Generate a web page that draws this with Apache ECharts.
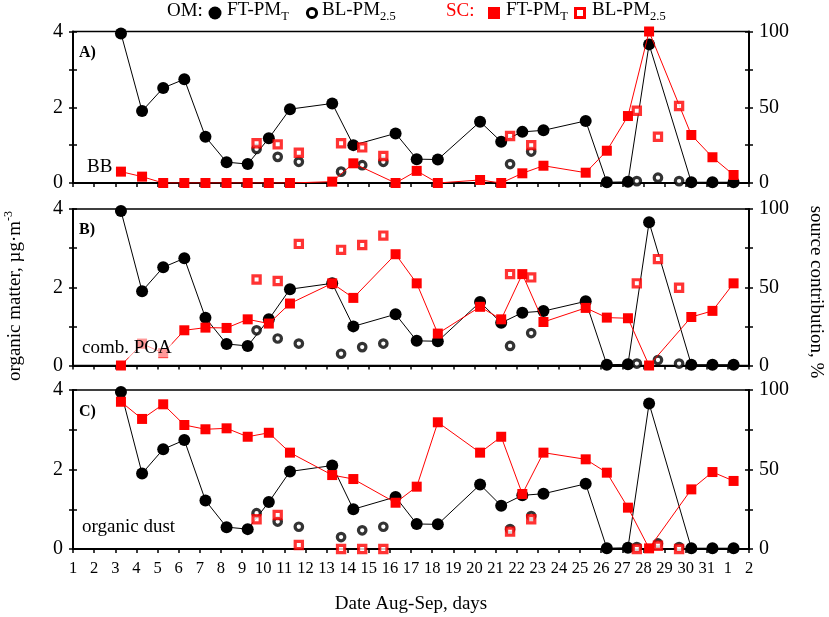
<!DOCTYPE html>
<html><head><meta charset="utf-8">
<script src="https://cdn.jsdelivr.net/npm/echarts@6/dist/echarts.min.js"></script>
<style>html,body{margin:0;padding:0;background:#fff}#c{width:829px;height:617px}</style>
</head><body><div id="c"></div>
<script>
// sampling times (day of Aug; 32 = Sep 1)
const ftDays = [3.27,4.27,5.27,6.27,7.27,8.27,9.27,10.27,11.27,13.27,14.27,16.27,17.27,18.27,20.27,21.27,22.27,23.27,25.27,26.27,27.27,28.27,30.27,31.27,32.27];
const blDays = [9.69,10.69,11.69,13.69,14.69,15.69,21.69,22.69,27.69,28.69,29.69];
// organic matter, ug/m3
const omFT = [3.95,1.90,2.51,2.74,1.22,0.55,0.50,1.18,1.95,2.10,1.00,1.31,0.63,0.62,1.62,1.09,1.35,1.39,1.64,0.02,0.03,3.66,0.02,0.02,0.02];
const omBL = [0.90,0.69,0.56,0.30,0.47,0.56,0.50,0.83,0.05,0.14,0.05];
// source contributions, %
const bbFT = [7.5,4.2,0,0,0,0,0,0,0,0.9,13,0,8,0,2,0,6.4,11.4,6.8,21.3,44.2,100,31.7,17,5.3];
const bbBL = [26.2,25.5,20,26.2,23.5,17.8,31,25,47.7,30.5,50.8];
const poaFT = [0,13.9,7.9,22.5,24.2,24,29.5,26.8,39.6,52.5,43.2,71.1,52.5,20.4,37.5,29.5,58.4,27.8,36.8,30.6,30.2,0,31,34.9,52.5];
const poaBL = [55,54,77.7,73.9,77,83,58.4,56.3,52.5,68,49.7];
const dustFT = [92.6,81.8,91,78,75.3,75.9,70.6,73.1,60.6,46.5,44,29.1,39.2,79.7,60.6,70.6,34.6,60.6,56.4,48,26,0.4,37.5,48.4,42.8];
const dustBL = [18.7,21.4,2.5,0,0,0,10.9,18.7,0,2,0];
const xTickLabels = ['1','2','3','4','5','6','7','8','9','10','11','12','13','14','15','16','17','18','19','20','21','22','23','24','25','26','27','28','29','30','31','1','2'];
const panelLetters = ['A)','B)','C)'];
const panelNames = ['BB','comb. POA','organic dust'];
const scFT = [bbFT, poaFT, dustFT];
const scBL = [bbBL, poaBL, dustBL];

const FONT = '"Liberation Serif", "Times New Roman", serif';
const gridPos = [{top:31.5,height:151.5},{top:209,height:156.5},{top:390,height:159}];
const pair = (xs, ys) => xs.map((x,i)=>[x, ys[i]]);

const grid=[], xAxis=[], yAxis=[], series=[];
gridPos.forEach((g,i)=>{
  grid.push({left:73, right:80, top:g.top, height:g.height, show:true, borderColor:'#000', borderWidth:1.5, backgroundColor:'transparent'});
  const bx = {gridIndex:i, type:'value', min:1, max:33, interval:1, splitLine:{show:false},
    axisLine:{show:true, onZero:false, lineStyle:{color:'#000', width:2}},
    axisTick:{show:true, inside:false, length:4, lineStyle:{color:'#000', width:1.5}},
    axisLabel:{show:i===2, margin:11, color:'#000', fontFamily:FONT, fontSize:16.5, formatter:v=>xTickLabels[Math.round(v)-1]||''}};
  xAxis.push(bx);
  xAxis.push(Object.assign({}, bx, {axisLine:{show:false}, axisTick:{show:true, inside:true, length:4, lineStyle:{color:'#000', width:1.5}}, axisLabel:{show:false}}));
  const yl = {gridIndex:i, type:'value', position:'left', min:0, max:4, interval:1, splitLine:{show:false},
    axisLine:{show:true, onZero:false, lineStyle:{color:'#000', width:2}},
    axisTick:{show:true, inside:false, length:4, lineStyle:{color:'#000', width:1.5}},
    axisLabel:{show:true, margin:10, color:'#000', fontFamily:FONT, fontSize:20, formatter:v=>(v%2===0?String(v):'')}};
  const yr = {gridIndex:i, type:'value', position:'right', min:0, max:100, interval:25, splitLine:{show:false},
    axisLine:{show:true, onZero:false, lineStyle:{color:'#000', width:2}},
    axisTick:{show:true, inside:false, length:4, lineStyle:{color:'#000', width:1.5}},
    axisLabel:{show:true, margin:10, color:'#000', fontFamily:FONT, fontSize:20, formatter:v=>(v%50===0?String(v):'')}};
  yAxis.push(yl);
  yAxis.push(Object.assign({}, yl, {axisLine:{show:false}, axisTick:{show:true, inside:true, length:4, lineStyle:{color:'#000', width:1.5}}, axisLabel:{show:false}}));
  yAxis.push(yr);
  yAxis.push(Object.assign({}, yr, {axisLine:{show:false}, axisTick:{show:true, inside:true, length:4, lineStyle:{color:'#000', width:1.5}}, axisLabel:{show:false}}));
  const xi = i*2, yL = i*4, yR = i*4+2;
  series.push({type:'line', xAxisIndex:xi, yAxisIndex:yL, data:pair(ftDays, omFT), symbol:'circle', symbolSize:12,
    lineStyle:{color:'#000', width:1}, itemStyle:{color:'#000'}, z:2, animation:false});
  series.push({type:'scatter', xAxisIndex:xi, yAxisIndex:yL, data:pair(blDays, omBL), symbol:'circle', symbolSize:7.5,
    itemStyle:{color:'#fff', borderColor:'#000', borderWidth:3.2}, z:3, animation:false});
  series.push({type:'line', xAxisIndex:xi, yAxisIndex:yR, data:pair(ftDays, scFT[i]), symbol:'rect', symbolSize:10,
    lineStyle:{color:'#ff0000', width:1}, itemStyle:{color:'#ff0000'}, z:4, animation:false});
  series.push({type:'scatter', xAxisIndex:xi, yAxisIndex:yR, data:pair(blDays, scBL[i]), symbol:'rect', symbolSize:7.2,
    itemStyle:{color:'#fff', borderColor:'#ff0000', borderWidth:3.2}, z:5, animation:false});
});

const subRich = (color)=>({
  m:{fontFamily:FONT, fontSize:19, color:color, verticalAlign:'bottom', lineHeight:21, padding:[0,0,3,0]},
  s:{fontFamily:FONT, fontSize:12.5, color:color, verticalAlign:'bottom', lineHeight:12}
});
const graphic = [
  // legend
  {type:'text', left:167, top:2, z:100, style:{text:'OM:', font:'19px '+FONT, fill:'#000'}},
  {type:'circle', shape:{cx:215, cy:13, r:6.5}, style:{fill:'#000'}, z:100},
  {type:'text', left:227, top:1, z:100, style:{text:'{m|FT-PM}{s|T}', rich:subRich('#000')}},
  {type:'circle', shape:{cx:312, cy:13, r:4.6}, style:{fill:'#fff', stroke:'#000', lineWidth:3}, z:100},
  {type:'text', left:322, top:1, z:100, style:{text:'{m|BL-PM}{s|2.5}', rich:subRich('#000')}},
  {type:'text', left:446, top:2, z:100, style:{text:'SC:', font:'19px '+FONT, fill:'#ff0000'}},
  {type:'rect', shape:{x:488, y:7, width:12, height:12}, style:{fill:'#ff0000'}, z:100},
  {type:'text', left:506, top:1, z:100, style:{text:'{m|FT-PM}{s|T}', rich:subRich('#ff0000')}},
  {type:'rect', shape:{x:575.5, y:8.5, width:9, height:9}, style:{fill:'#fff', stroke:'#ff0000', lineWidth:3}, z:100},
  {type:'text', left:592, top:1, z:100, style:{text:'{m|BL-PM}{s|2.5}', rich:subRich('#ff0000')}},
  // axis titles
  {type:'text', x:411, y:604, z:100, style:{text:'Date Aug-Sep, days', font:'19px '+FONT, fill:'#000', align:'center', verticalAlign:'middle'}},
  {type:'text', x:14, y:296, rotation:Math.PI/2, z:100, style:{text:'{m|organic matter, µg·m}{s|-3}', align:'center', verticalAlign:'middle',
    rich:{m:{fontFamily:FONT, fontSize:19, color:'#000', verticalAlign:'bottom', lineHeight:22}, s:{fontFamily:FONT, fontSize:12, color:'#000', verticalAlign:'top', lineHeight:12}}}},
  {type:'text', x:816, y:292, rotation:-Math.PI/2, z:100, style:{text:'source contribution, %', font:'19px '+FONT, fill:'#000', align:'center', verticalAlign:'middle'}}
];
const letterY = [53, 230, 412];
const nameY = [167, 348, 527];
gridPos.forEach((g,i)=>{
  graphic.push({type:'text', x:79, y:letterY[i], z:100, style:{text:panelLetters[i], font:'bold 16px '+FONT, fill:'#000', verticalAlign:'middle'}});
  graphic.push({type:'text', x:i===0?87:82, y:nameY[i], z:100, style:{text:panelNames[i], font:'19px '+FONT, fill:'#000', verticalAlign:'middle',
    backgroundColor: i===1 ? 'rgba(255,255,255,0.6)' : null}});
});

const chart = echarts.init(document.getElementById('c'), null, {renderer:'canvas'});
chart.setOption({animation:false, backgroundColor:'#fff', grid, xAxis, yAxis, series, graphic});
</script>
</body></html>
